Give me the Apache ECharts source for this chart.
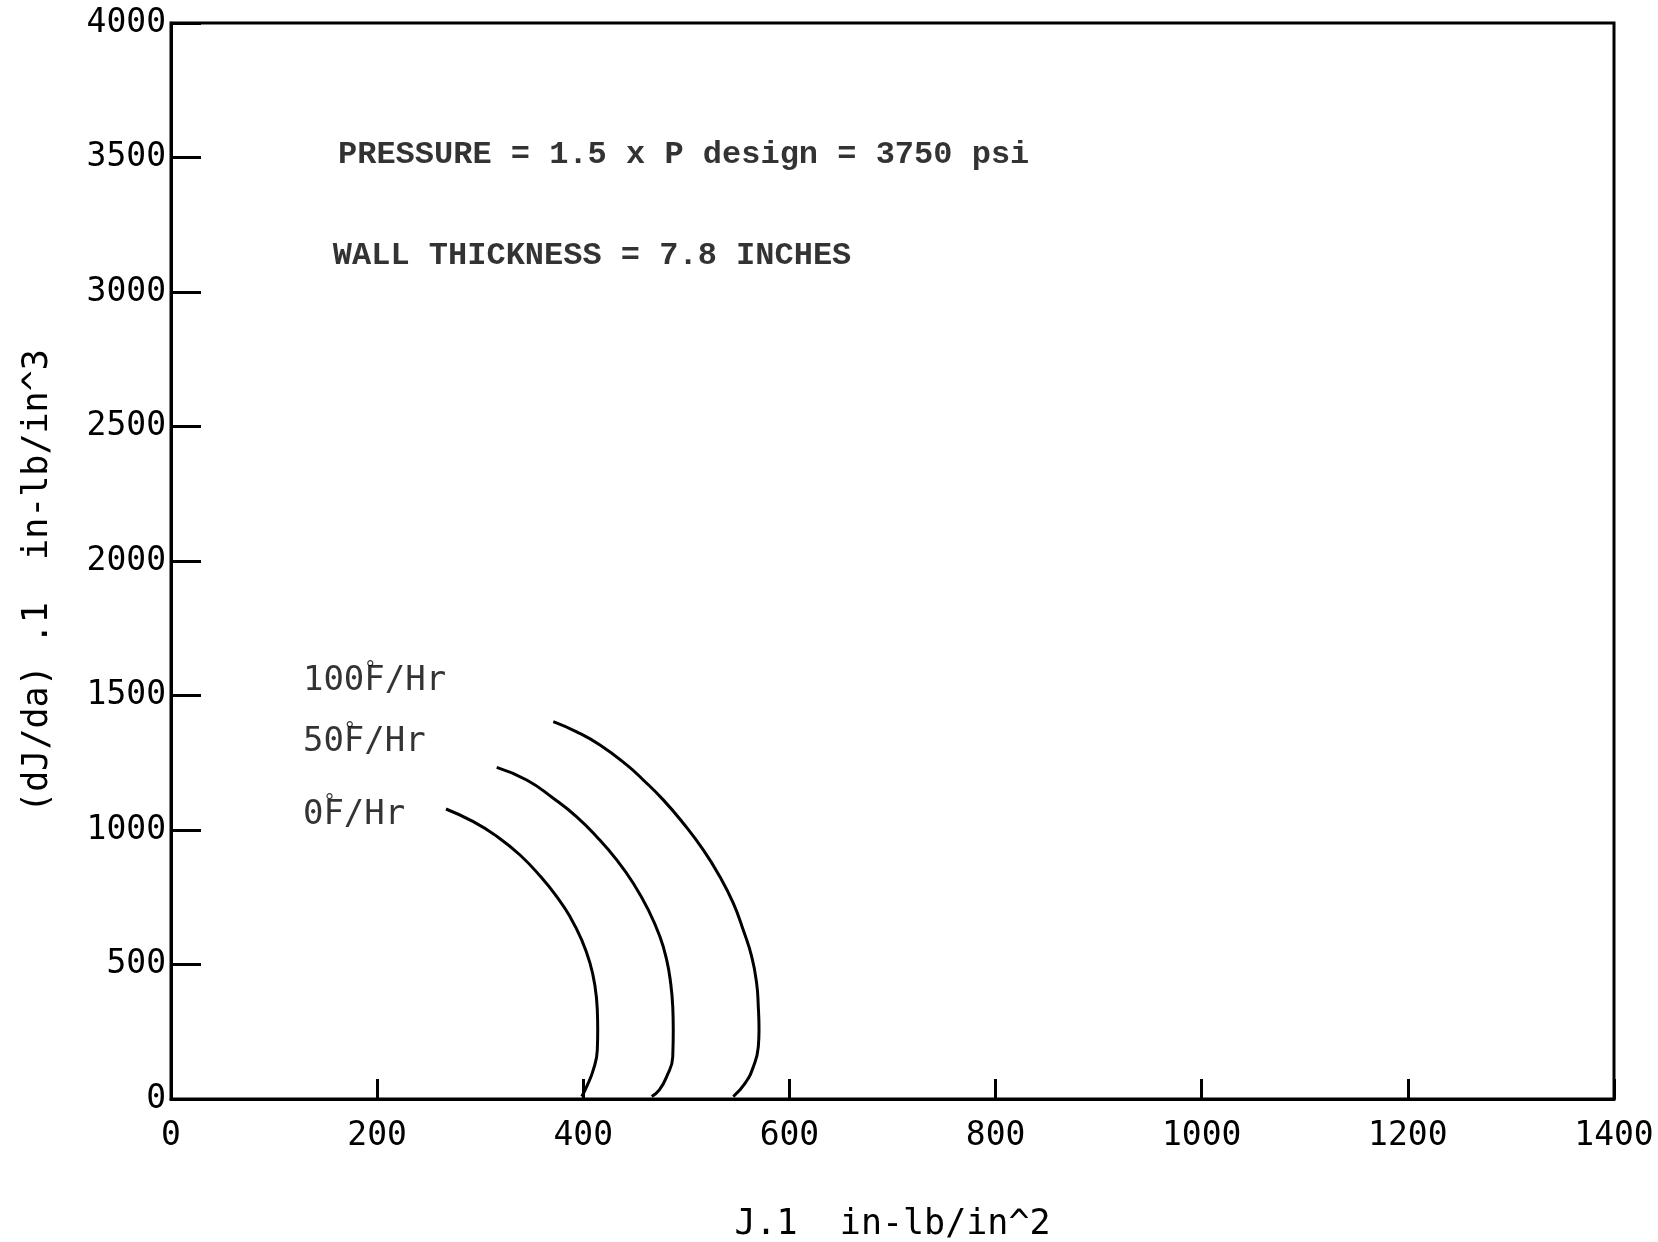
<!DOCTYPE html>
<html>
<head>
<meta charset="utf-8">
<script src="https://cdn.jsdelivr.net/npm/echarts@6/dist/echarts.min.js"></script>
<style>
html,body{margin:0;padding:0;background:#fff;}
#chart{width:1658px;height:1242px;}
</style>
</head>
<body>
<div id="chart"></div>
<script>
// ---- Data ----
const xTicks = [0, 200, 400, 600, 800, 1000, 1200, 1400];
const yTicks = [0, 500, 1000, 1500, 2000, 2500, 3000, 3500, 4000];

const curve0F = [[266.8,1078],[293.3,1031],[316.3,976],[338.6,907],[359.0,825],[374.2,752],[387.1,678],[398.5,591],[406.5,505],[411.4,418],[413.6,331],[414.0,257],[413.6,182],[409.7,108],[403.3,46],[398.5,9]];
const curve50F = [[316.0,1233],[345.1,1186],[370.9,1118],[393.6,1049],[413.0,975],[432.4,889],[448.5,802],[463.1,703],[474.4,603],[480.9,517],[484.8,430],[486.8,343],[487.3,257],[486.8,157],[480.9,83],[473.8,34],[466.4,9]];
const curve100F = [[370.9,1403],[393.6,1365],[416.2,1316],[442.1,1242],[458.2,1186],[477.6,1112],[497.0,1025],[516.4,926],[532.6,826],[545.5,728],[555.2,628],[563.4,529],[568.2,430],[569.8,343],[570.5,257],[569.8,194],[565.0,120],[556.9,58],[545.5,9]];

const rateValues = ['0', '50', '100'];
const rateLabelAnchors = [[128,1055],[128,1325],[128,1552]];

const noteTexts = ['PRESSURE = 1.5 x P design = 3750 psi', 'WALL THICKNESS = 7.8 INCHES'];
const noteAnchors = [[162,3510],[157,3135]];

const xName = 'J.1  in-lb/in^2';
const yName = '(dJ/da) .1  in-lb/in^3';

// ---- Chart ----
const chart = echarts.init(document.getElementById('chart'), null, {renderer: 'canvas'});
const mono = 'DejaVu Sans Mono';

function curveSeries(data) {
  return {
    type: 'line', data: data, smooth: 0.5, showSymbol: false, silent: true,
    lineStyle: {color: '#000', width: 3}, z: 3
  };
}

const option = {
  backgroundColor: '#fff',
  animation: false,
  grid: {left: 171, right: 44, top: 23, bottom: 143, containLabel: false, outerBoundsMode: 'none',
    show: true, borderColor: '#000', borderWidth: 3, backgroundColor: 'transparent'},
  xAxis: {
    type: 'value', min: xTicks[0], max: xTicks[xTicks.length-1], interval: 200,
    name: xName, nameLocation: 'middle', nameGap: 108,
    nameTextStyle: {fontFamily: mono, fontSize: 35, color: '#000'},
    axisLine: {show: true, lineStyle: {color: '#000', width: 3}},
    axisTick: {show: true, inside: true, length: 20, lineStyle: {color: '#000', width: 3}},
    axisLabel: {fontFamily: mono, fontSize: 33, color: '#000', margin: 21,
      formatter: v => xTicks.includes(v) ? String(v) : ''},
    splitLine: {show: false}
  },
  yAxis: {
    type: 'value', min: yTicks[0], max: yTicks[yTicks.length-1], interval: 500,
    name: yName, nameLocation: 'middle', nameGap: 116, nameRotate: 90,
    nameTextStyle: {fontFamily: mono, fontSize: 35, color: '#000', padding: [0, 40, 0, 0]},
    axisLine: {show: true, lineStyle: {color: '#000', width: 3}},
    axisTick: {show: true, inside: true, length: 30, lineStyle: {color: '#000', width: 3}},
    axisLabel: {fontFamily: mono, fontSize: 33, color: '#000', margin: 5,
      formatter: v => yTicks.includes(v) ? String(v) : ''},
    splitLine: {show: false}
  },
  series: [
    curveSeries(curve0F),
    curveSeries(curve50F),
    curveSeries(curve100F),
    {
      type: 'scatter', symbolSize: 0, silent: true, z: 4,
      data: rateLabelAnchors.map((p, i) => ({value: p, rate: rateValues[i]})),
      label: {
        show: true, position: [0, 0], align: 'left', verticalAlign: 'middle',
        formatter: p => '{a|' + p.data.rate + '}{d|°}{a|F/Hr}',
        rich: {
          a: {fontFamily: mono, fontSize: 34, color: '#000'},
          d: {fontFamily: mono, fontSize: 20, color: '#000', width: 0, padding: [0, 0, 24, 0]}
        }
      }
    },
    {
      type: 'scatter', symbolSize: 0, silent: true, z: 4,
      data: noteAnchors.map((p, i) => ({value: p, text: noteTexts[i]})),
      label: {
        show: true, position: [0, 0], align: 'left', verticalAlign: 'middle',
        formatter: p => p.data.text,
        fontFamily: 'Liberation Mono', fontWeight: 'bold', fontSize: 32, color: '#000'
      }
    }
  ]
};
chart.setOption(option);
</script>
</body>
</html>
